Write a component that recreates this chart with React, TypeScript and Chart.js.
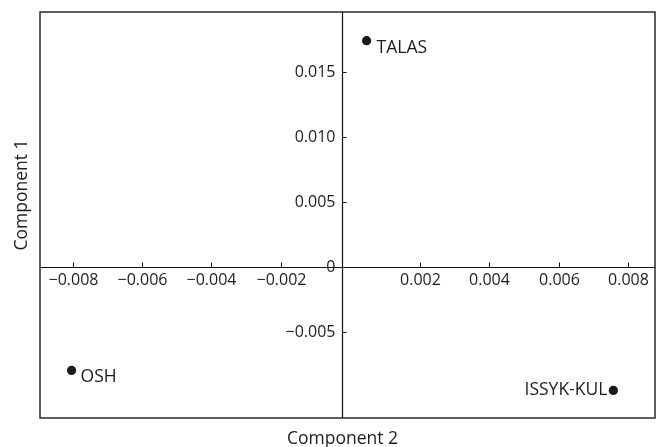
import React, { useEffect, useRef } from "react";
import { Chart, registerables } from "chart.js";

Chart.register(...registerables);

// ---- data ----
const regions = ["TALAS", "OSH", "ISSYK-KUL"];
const component2 = [0.00047, -0.00803, 0.00758]; // x
const component1 = [0.01738, -0.00793, -0.00946]; // y
const xTickValues = [-0.008, -0.006, -0.004, -0.002, 0.002, 0.004, 0.006, 0.008];
const yTickValues = [0.015, 0.01, 0.005, 0, -0.005];
const xRange = [-0.00894, 0.00878];
const yRange = [-0.01158, 0.01958];
const verticalAxisAt = -0.00025;
const horizontalAxisAt = 0;
const xTitle = "Component 2";
const yTitle = "Component 1";

// ---- styles ----
const TICK_FONT = '16px "Open Sans", "Noto Sans", sans-serif';
const TEXT_FONT = '17.5px "Open Sans", "Noto Sans", sans-serif';
const INK = "#1f1c1d";
// label placement per point: [dx, dy, align, baseline]
const labelPlacement: [number, number, CanvasTextAlign, CanvasTextBaseline][] = [
  [10, 7, "left", "middle"],
  [9, 7, "left", "middle"],
  [-6, 0, "right", "middle"],
];

const fmt = (v: number) =>
  v === 0 ? "0" : (v < 0 ? "\u2212" : "") + Math.abs(v).toFixed(3);

const overlay = {
  id: "overlay",
  afterDraw(chart: any) {
    const { ctx, chartArea: a, scales } = chart;
    const xs = scales.x;
    const ys = scales.y;
    ctx.save();
    // frame
    ctx.strokeStyle = "#2a2a2a";
    ctx.lineWidth = 1.5;
    ctx.strokeRect(a.left, a.top, a.right - a.left, a.bottom - a.top);

    // axis lines
    const ax = Math.round(xs.getPixelForValue(verticalAxisAt)) + 0.5;
    const ay = Math.round(ys.getPixelForValue(horizontalAxisAt)) + 0.5;
    ctx.strokeStyle = "#111";
    ctx.lineWidth = 1.2;
    ctx.beginPath();
    ctx.moveTo(ax, a.top);
    ctx.lineTo(ax, a.bottom);
    ctx.moveTo(a.left, ay);
    ctx.lineTo(a.right, ay);
    ctx.stroke();

    ctx.font = TICK_FONT;
    ctx.fillStyle = INK;
    ctx.lineWidth = 1;
    // x ticks
    ctx.textAlign = "center";
    ctx.textBaseline = "top";
    xTickValues.forEach((v) => {
      const px = Math.round(xs.getPixelForValue(v)) + 0.5;
      ctx.beginPath();
      ctx.moveTo(px, ay);
      ctx.lineTo(px, ay - 5);
      ctx.stroke();
      ctx.fillText(fmt(v), px, ay + 5);
    });
    // y ticks
    ctx.textAlign = "right";
    ctx.textBaseline = "middle";
    yTickValues.forEach((v) => {
      const py = Math.round(ys.getPixelForValue(v)) + 0.5;
      ctx.beginPath();
      ctx.moveTo(ax, py);
      ctx.lineTo(ax + 4, py);
      ctx.stroke();
      ctx.fillText(fmt(v), ax - 7, py);
    });

    // point labels
    ctx.font = TEXT_FONT;
    regions.forEach((name, i) => {
      const px = xs.getPixelForValue(component2[i]);
      const py = ys.getPixelForValue(component1[i]);
      const [dx, dy, al, bl] = labelPlacement[i];
      ctx.textAlign = al;
      ctx.textBaseline = bl;
      ctx.fillText(name, px + dx, py + dy);
    });

    // titles
    ctx.textAlign = "center";
    ctx.textBaseline = "alphabetic";
    ctx.fillText(xTitle, ax, 444);
    ctx.save();
    ctx.translate(27, 195);
    ctx.rotate(-Math.PI / 2);
    ctx.fillText(yTitle, 0, 0);
    ctx.restore();
    ctx.restore();
  },
};

export default function App() {
  const ref = useRef<HTMLCanvasElement>(null);
  useEffect(() => {
    if (!ref.current) return;
    const chart = new Chart(ref.current, {
      type: "scatter",
      data: {
        datasets: [
          {
            data: regions.map((_, i) => ({ x: component2[i], y: component1[i] })),
            pointRadius: 4.6,
            pointBackgroundColor: "#1a1a1a",
            pointBorderWidth: 0,
            clip: false as any,
          },
        ],
      },
      options: {
        animation: false,
        responsive: false,
        maintainAspectRatio: false,
        devicePixelRatio: 1,
        layout: { padding: { left: 40, top: 12, right: 7, bottom: 29 } },
        plugins: { legend: { display: false }, tooltip: { enabled: false } },
        events: [],
        scales: {
          x: { type: "linear", display: false, min: xRange[0], max: xRange[1] },
          y: { type: "linear", display: false, min: yRange[0], max: yRange[1] },
        },
      },
      plugins: [overlay],
    });
    return () => chart.destroy();
  }, []);
  return (
    <div style={{ position: "fixed", left: 0, top: 0, width: 662, height: 447, background: "#fff" }}>
      <canvas ref={ref} width={662} height={447} style={{ width: 662, height: 447 }} />
    </div>
  );
}
